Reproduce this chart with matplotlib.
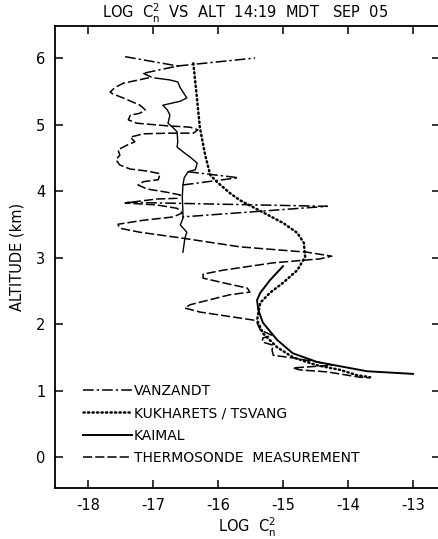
#! /usr/bin/env python
# -*- coding: utf-8 -*-

import numpy as np
import matplotlib
matplotlib.use("Agg")
import matplotlib.pyplot as plt
from matplotlib.lines import Line2D

plt.rcParams['axes.unicode_minus'] = False
plt.rcParams['font.family'] = ['DejaVu Sans']

# Kukharets / Tsvang model (log Cn2, altitude km)
kt_x = [-16.38, -16.33, -16.28, -16.20, -16.12, -16.02, -15.82, -15.66, -15.31, -15.00,
        -14.78, -14.68, -14.66, -14.78, -15.00, -15.20, -15.35, -15.40, -15.31, -15.09,
        -14.85, -14.48, -14.12, -13.86, -13.66]
kt_y = [5.92, 5.45, 4.96, 4.55, 4.24, 4.14, 3.97, 3.86, 3.68, 3.52,
        3.37, 3.22, 3.01, 2.81, 2.62, 2.47, 2.32, 2.06, 1.86, 1.65,
        1.50, 1.38, 1.31, 1.23, 1.20]

# Kaimal model
ka_x = [-13.00, -13.71, -14.48, -14.85, -15.09, -15.31, -15.38, -15.40, -15.35, -15.20, -15.00]
ka_y = [1.25, 1.29, 1.43, 1.56, 1.76, 2.02, 2.21, 2.36, 2.47, 2.66, 2.87]

# Thermosonde measurement
th_x = [-17.15, -17.02, -17.08, -17.46, -17.58, -17.66, -17.62, -17.46, -17.20, -17.12,
        -17.20, -17.35, -17.38, -17.25, -16.78, -16.43, -16.31, -16.38, -16.74, -17.15,
        -17.35, -17.28, -17.40, -17.54, -17.51, -17.57, -17.51, -17.35, -17.09, -16.89,
        -16.92, -17.15, -17.23, -17.09, -16.78, -16.58, -16.63, -16.94, -17.35, -17.43,
        -16.94, -16.63, -16.55, -16.69, -17.15, -17.54, -17.51, -17.20, -16.54, -15.66,
        -14.63, -14.25, -14.43, -15.15, -15.92, -16.23, -16.23, -15.92, -15.55, -15.51,
        -15.82, -16.43, -16.51, -16.28, -15.46, -15.40, -15.35, -15.17, -15.31, -15.32,
        -15.15, -15.17, -15.15, -14.85, -14.48, -14.23, -14.85, -14.74, -14.32, -13.82,
        -13.66]
th_y = [5.77, 5.71, 5.70, 5.62, 5.56, 5.49, 5.46, 5.40, 5.29, 5.22,
        5.17, 5.14, 5.07, 5.02, 4.98, 4.96, 4.92, 4.87, 4.87, 4.86,
        4.81, 4.74, 4.69, 4.62, 4.54, 4.47, 4.39, 4.33, 4.30, 4.26,
        4.17, 4.14, 4.09, 4.03, 3.98, 3.94, 3.89, 3.88, 3.83, 3.82,
        3.79, 3.74, 3.67, 3.61, 3.56, 3.50, 3.44, 3.38, 3.29, 3.16,
        3.08, 3.02, 2.98, 2.92, 2.81, 2.75, 2.69, 2.62, 2.54, 2.48,
        2.44, 2.29, 2.24, 2.18, 2.06, 2.02, 1.91, 1.83, 1.79, 1.73,
        1.68, 1.61, 1.53, 1.49, 1.43, 1.38, 1.34, 1.31, 1.28, 1.20,
        1.19]

# Vanzandt model (separate legs, nan = break)
vz_x = [-17.43, -16.62, -17.15, np.nan, -16.62, -15.43, np.nan,
        -16.46, -15.69, -16.55, np.nan, -17.40, -14.32, -16.55]
vz_y = [6.02, 5.88, 5.77, np.nan, 5.88, 6.00, np.nan,
        4.29, 4.20, 4.09, np.nan, 3.83, 3.77, 3.61]

# thin profile in the middle
pr_x = [-16.97, -16.74, -16.62, -16.58, -16.48, -16.58, -16.85, -16.78, -16.74, -16.77,
        -16.69, -16.63, -16.62, -16.63, -16.54, -16.43, -16.32, -16.35, -16.46, -16.52,
        -16.54, -16.55, -16.54, -16.54, -16.58, -16.48, -16.51, -16.54]
pr_y = [5.70, 5.67, 5.64, 5.55, 5.40, 5.35, 5.29, 5.22, 5.14, 5.02,
        4.95, 4.89, 4.74, 4.66, 4.59, 4.51, 4.42, 4.32, 4.29, 4.20,
        4.09, 3.91, 3.68, 3.59, 3.49, 3.38, 3.29, 3.08]

xticks = [-18, -17, -16, -15, -14, -13]
yticks = [0, 1, 2, 3, 4, 5, 6]

dpi = 100
fig = plt.figure(dpi=dpi, figsize=(438 / dpi, 539 / dpi))
ax = fig.add_axes([0.1256, 0.0946, 0.879, 0.857])

vz_style = dict(color='black', lw=1.1, ls=(0, (7, 2, 1.5, 2)))
kt_style = dict(color='black', lw=1.8, ls=(0, (0.5, 1.3)), dash_capstyle='round')
ka_style = dict(color='black', lw=1.4, ls='-')
th_style = dict(color='black', lw=1.1, ls=(0, (6, 2)))

ax.plot(vz_x, vz_y, **vz_style)
ax.plot(kt_x, kt_y, **kt_style)
ax.plot(ka_x, ka_y, **ka_style)
ax.plot(th_x, th_y, **th_style)
ax.plot(pr_x, pr_y, color='black', lw=1.0)

handles = [Line2D([], [], **vz_style), Line2D([], [], **kt_style),
           Line2D([], [], **ka_style), Line2D([], [], **th_style)]
labels = ['VANZANDT', 'KUKHARETS / TSVANG', 'KAIMAL', 'THERMOSONDE  MEASUREMENT']
ax.legend(handles, labels, loc='lower left', bbox_to_anchor=(0.055, 0.035),
          frameon=False, fontsize=10, handlelength=3.5, handletextpad=0.15,
          labelspacing=0.6, borderpad=0)

ax.set_xlim(-18.508, -12.585)
ax.set_ylim(-0.466, 6.48)
ax.set_xticks(xticks)
ax.set_xticklabels([str(t) for t in xticks])
ax.set_yticks(yticks)
ax.tick_params(direction='in', length=6, width=1.1, labelsize=10.5,
               top=True, right=True, pad=7)
for s in ax.spines.values():
    s.set_linewidth(1.3)

ax.set_xlabel(r'LOG  $\mathrm{C_n^2}$', fontsize=10.5, labelpad=2)
ax.set_ylabel('ALTITUDE (km)', fontsize=10.5, labelpad=8)
fig.text(0.56, 0.975, r'LOG  $\mathrm{C_n^2}$  VS  ALT  14:19  MDT   SEP  05',
         ha='center', va='center', fontsize=10.5)

fig.savefig('out.png', dpi=dpi)
